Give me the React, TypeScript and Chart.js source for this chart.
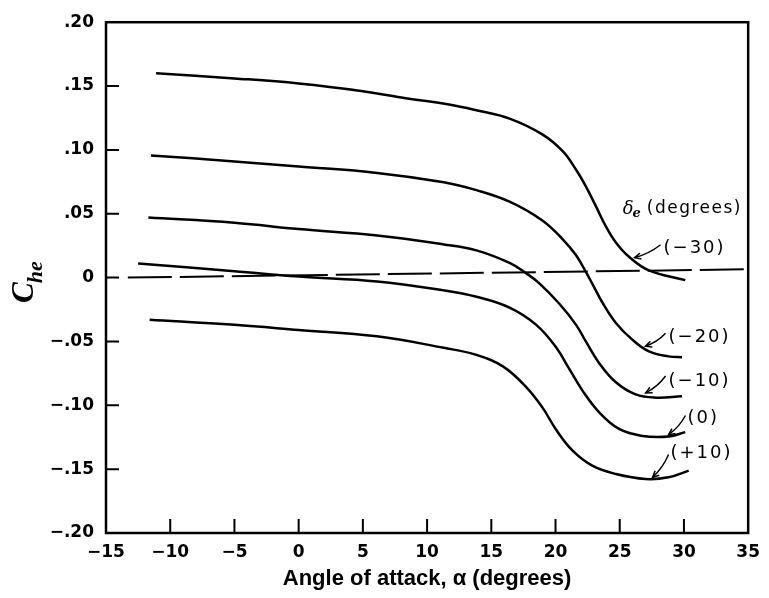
import React, { useEffect, useRef } from "react";
import { Chart, registerables } from "chart.js";

Chart.register(...registerables);

// ---- axis ticks ----
const xTickValues = [-15, -10, -5, 0, 5, 10, 15, 20, 25, 30, 35];
const xTickLabels = ["−15", "−10", "−5", "0", "5", "10", "15", "20", "25", "30", "35"];
const yTickValues = [-0.2, -0.15, -0.1, -0.05, 0, 0.05, 0.1, 0.15, 0.2];
const yTickLabels = ["−.20", "−.15", "−.10", "−.05", "0", ".05", ".10", ".15", ".20"];

// ---- series (elevator deflection, degrees) ----
const deflectionLabels = ["(−30)", "(−20)", "(−10)", "(0)", "(+10)"];

const alphaM30 = [-11.1, -5, 0, 5, 8, 11.7, 13.84, 16.42, 19.0, 20.56, 21.6, 22.36, 23.14, 23.9, 24.7, 25.7, 27.27, 30.1];
const cheM30 = [0.16, 0.156, 0.152, 0.146, 0.141, 0.1355, 0.131, 0.1245, 0.112, 0.099, 0.0845, 0.0715, 0.056, 0.0405, 0.0275, 0.0165, 0.0057, -0.002];

const alphaM20 = [-11.5, -5, 0, 6.1, 11.3, 13.84, 16.42, 19.0, 20.56, 21.6, 22.36, 22.9, 23.65, 24.7, 26.0, 27.27, 28.8, 29.85];
const cheM20 = [0.0957, 0.091, 0.087, 0.082, 0.0747, 0.0685, 0.0595, 0.0446, 0.03, 0.0175, 0.0045, -0.0055, -0.0195, -0.0355, -0.0488, -0.0578, -0.0617, -0.0623];

const alphaM10 = [-11.7, -5, 0, 6.1, 11.3, 13.84, 16.42, 17.7, 18.74, 20.3, 21.6, 22.36, 23.4, 24.7, 26.24, 27.8, 29.85];
const cheM10 = [0.047, 0.043, 0.038, 0.033, 0.026, 0.0213, 0.0115, 0.0035, -0.0045, -0.0205, -0.037, -0.05, -0.067, -0.082, -0.0915, -0.094, -0.0929];

const alphaZero = [-12.5, -5, 0, 6.1, 11.3, 13.84, 16.42, 18.5, 20.04, 21.07, 22.1, 23.4, 24.95, 26.76, 28.8, 30.1];
const cheZero = [0.011, 0.005, 0.0008, -0.003, -0.01, -0.015, -0.0235, -0.037, -0.0545, -0.0715, -0.0885, -0.1055, -0.1185, -0.124, -0.1245, -0.121];

const alphaP10 = [-11.6, -5, 0, 6.1, 11.3, 13.84, 15.9, 17.7, 19.0, 20.04, 21.33, 22.9, 24.7, 27.0, 28.8, 30.37];
const cheP10 = [-0.033, -0.037, -0.041, -0.046, -0.055, -0.0605, -0.0695, -0.0855, -0.102, -0.119, -0.1355, -0.1475, -0.1538, -0.1577, -0.1564, -0.1512];

// dashed reference line (Che = 0)
const refAlpha = [-13.3, 35];
const refChe = [0, 0.0065];

const seriesAlpha = [alphaM30, alphaM20, alphaM10, alphaZero, alphaP10];
const seriesChe = [cheM30, cheM20, cheM10, cheZero, cheP10];

// ---- label placement (data coordinates) ----
const labelPlacement = [
  { text: [28.41, 0.0226], from: [28.18, 0.0257], to: [26.16, 0.0156] },
  { text: [28.8, -0.0467], from: [28.57, -0.0436], to: [27.0, -0.0537] },
  { text: [28.8, -0.081], from: [28.57, -0.077], to: [27.02, -0.0903] },
  { text: [30.27, -0.1105], from: [30.12, -0.108], to: [28.8, -0.123] },
  { text: [28.95, -0.138], from: [28.8, -0.1385], to: [27.56, -0.1564] },
];
const legendTitleAt = [25.23, 0.0537];

const xTitle = "Angle of attack, α (degrees)";

const overlayPlugin = {
  id: "overlay",
  afterDraw(chart: any) {
    const { ctx, chartArea: a, scales } = chart;
    const xs = scales.x;
    const ys = scales.y;
    const px = (v: number) => xs.getPixelForValue(v);
    const py = (v: number) => ys.getPixelForValue(v);
    ctx.save();
    ctx.strokeStyle = "#000";
    ctx.fillStyle = "#000";
    // frame
    ctx.lineWidth = 2.5;
    ctx.strokeRect(a.left, a.top, a.right - a.left, a.bottom - a.top);
    // inward tick marks
    ctx.lineWidth = 2;
    ctx.beginPath();
    yTickValues.forEach((v) => {
      if (v > -0.2 + 1e-9 && v < 0.2 - 1e-9) {
        const y = py(v);
        ctx.moveTo(a.left, y);
        ctx.lineTo(a.left + 13, y);
      }
    });
    xTickValues.forEach((v) => {
      if (v > -15 && v < 35) {
        const x = px(v);
        ctx.moveTo(x, a.bottom);
        ctx.lineTo(x, a.bottom - 14);
      }
    });
    ctx.stroke();

    // y-axis title C_he
    ctx.save();
    ctx.translate(33, 303);
    ctx.rotate(-Math.PI / 2);
    ctx.textAlign = "left";
    ctx.textBaseline = "alphabetic";
    ctx.font = "italic bold 31px 'Liberation Serif'";
    ctx.fillText("C", 0, 0);
    const cw = ctx.measureText("C").width;
    ctx.font = "italic bold 22px 'Liberation Serif'";
    ctx.fillText("he", cw - 1, 9);
    ctx.restore();

    // legend title δe (degrees)
    const tx = px(legendTitleAt[0]);
    const ty = py(legendTitleAt[1]);
    ctx.textAlign = "left";
    ctx.textBaseline = "middle";
    ctx.font = "italic 18px 'DejaVu Serif'";
    ctx.fillText("δ", tx, ty);
    const dw = ctx.measureText("δ").width;
    ctx.font = "italic bold 13px 'DejaVu Serif'";
    ctx.fillText("e", tx + dw - 1, ty + 5);
    const ew = ctx.measureText("e").width;
    ctx.font = "17px 'DejaVu Sans'";
    (ctx as any).letterSpacing = "1.5px";
    ctx.fillText("(degrees)", tx + dw + ew + 5, ty);

    // series labels with arrows
    (ctx as any).letterSpacing = "2px";
    ctx.font = "18px 'DejaVu Sans'";
    labelPlacement.forEach((p, i) => {
      ctx.fillText(deflectionLabels[i], px(p.text[0]), py(p.text[1]));
      const x0 = px(p.from[0]);
      const y0 = py(p.from[1]);
      const x1 = px(p.to[0]);
      const y1 = py(p.to[1]);
      const mx = (x0 + x1) / 2;
      const my = (y0 + y1) / 2;
      const dx = x1 - x0;
      const dy = y1 - y0;
      const len = Math.hypot(dx, dy) || 1;
      const cx = mx + (-dy / len) * -3;
      const cy = my + (dx / len) * -3;
      ctx.lineWidth = 1.5;
      ctx.beginPath();
      ctx.moveTo(x0, y0);
      ctx.quadraticCurveTo(cx, cy, x1, y1);
      ctx.stroke();
      const ang = Math.atan2(y1 - cy, x1 - cx);
      const hl = 7;
      ctx.beginPath();
      ctx.moveTo(x1 - hl * Math.cos(ang - 0.45), y1 - hl * Math.sin(ang - 0.45));
      ctx.lineTo(x1, y1);
      ctx.lineTo(x1 - hl * Math.cos(ang + 0.45), y1 - hl * Math.sin(ang + 0.45));
      ctx.stroke();
    });
    (ctx as any).letterSpacing = "0px";
    ctx.restore();
  },
};

export default function App() {
  const ref = useRef<HTMLCanvasElement | null>(null);
  useEffect(() => {
    document.body.style.margin = "0";
    const canvas = ref.current;
    if (!canvas) return;
    const datasets: any[] = seriesAlpha.map((xs, i) => ({
      label: deflectionLabels[i],
      data: xs.map((x, j) => ({ x, y: seriesChe[i][j] })),
      borderColor: "#000",
      borderWidth: 2.5,
      pointRadius: 0,
      fill: false,
      tension: 0.4,
    }));
    datasets.push({
      label: "zero",
      data: refAlpha.map((x, j) => ({ x, y: refChe[j] })),
      borderColor: "#000",
      borderWidth: 2,
      borderDash: [44, 8],
      pointRadius: 0,
      fill: false,
    });
    const chart = new Chart(canvas, {
      type: "line",
      data: { datasets },
      options: {
        animation: false,
        responsive: false,
        maintainAspectRatio: false,
        layout: { padding: { top: 19, right: 16, left: 0, bottom: 0 } },
        plugins: { legend: { display: false }, tooltip: { enabled: false } },
        scales: {
          x: {
            type: "linear",
            min: -15,
            max: 35,
            afterBuildTicks: (s: any) => {
              s.ticks = xTickValues.map((v) => ({ value: v }));
            },
            afterFit: (s: any) => {
              s.height = 65;
            },
            grid: { display: false, drawTicks: false },
            border: { display: false },
            ticks: {
              autoSkip: false,
              maxRotation: 0,
              padding: 9,
              color: "#000",
              font: { family: "'DejaVu Sans'", size: 17, weight: "bold" },
              callback: (v: any) => {
                const i = xTickValues.findIndex((t) => Math.abs(t - Number(v)) < 1e-9);
                return i >= 0 ? xTickLabels[i] : "";
              },
            },
            title: {
              display: true,
              text: xTitle,
              color: "#000",
              font: { family: "'Liberation Sans'", size: 22, weight: "bold" },
              padding: { top: 0, bottom: 6 },
            },
          },
          y: {
            type: "linear",
            min: -0.2,
            max: 0.2,
            afterBuildTicks: (s: any) => {
              s.ticks = yTickValues.map((v) => ({ value: v }));
            },
            afterFit: (s: any) => {
              s.width = 106;
            },
            grid: { display: false, drawTicks: false },
            border: { display: false },
            ticks: {
              autoSkip: false,
              padding: 12,
              color: "#000",
              font: { family: "'DejaVu Sans'", size: 17, weight: "bold" },
              callback: (v: any) => {
                const i = yTickValues.findIndex((t) => Math.abs(t - Number(v)) < 1e-9);
                return i >= 0 ? yTickLabels[i] : "";
              },
            },
          },
        },
      },
      plugins: [overlayPlugin],
    });
    return () => chart.destroy();
  }, []);
  return <canvas ref={ref} width={769} height={598} style={{ display: "block" }} />;
}
